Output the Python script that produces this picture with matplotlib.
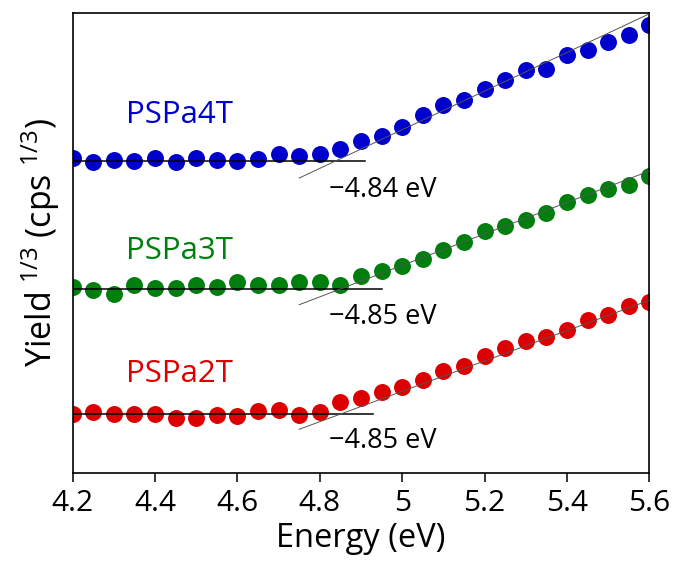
import matplotlib
matplotlib.use("Agg")
import matplotlib.pyplot as plt
import numpy as np

# photon energy (eV), 0.05 eV steps
energy = np.arange(4.2, 5.6001, 0.05)

# Yield^(1/3), arbitrary offsets per polymer
y_4t = [6.84, 6.75, 6.80, 6.79, 6.84, 6.77, 6.84, 6.80, 6.79, 6.83,
        6.93, 6.89, 6.93, 7.05, 7.21, 7.33, 7.53, 7.78, 7.99, 8.11,
        8.35, 8.54, 8.76, 8.78, 9.09, 9.20, 9.38, 9.52, 9.73]
y_3t = [4.04, 3.98, 3.89, 4.09, 4.02, 4.02, 4.08, 4.04, 4.15, 4.08,
        4.08, 4.15, 4.15, 4.08, 4.28, 4.39, 4.50, 4.65, 4.85, 5.03,
        5.25, 5.37, 5.50, 5.65, 5.90, 6.04, 6.17, 6.26, 6.46]
y_2t = [1.28, 1.33, 1.28, 1.29, 1.29, 1.20, 1.20, 1.25, 1.24, 1.35,
        1.37, 1.26, 1.33, 1.54, 1.62, 1.75, 1.86, 2.02, 2.22, 2.33,
        2.54, 2.71, 2.87, 2.95, 3.11, 3.33, 3.44, 3.62, 3.72]

names = ["PSPa4T", "PSPa3T", "PSPa2T"]
colors = ["#0000cc", "#007f0e", "#dd0000"]
onsets = [4.84, 4.85, 4.85]          # ionization onset (eV)
baselines = [6.79, 4.00, 1.28]       # background level
slopes = [4.2, 3.42, 3.3]            # slope of linear fit above onset
base_end = [4.91, 4.95, 4.93]

plt.rcParams['font.family'] = ['Open Sans', 'DejaVu Sans']
plt.rcParams['mathtext.default'] = 'regular'

fig = plt.figure(figsize=(6.78, 5.63), dpi=100)
ax = fig.add_axes([0.1072, 0.1599, 0.8505, 0.817])

for yv, c, e0, b, k, xe in zip([y_4t, y_3t, y_2t], colors, onsets, baselines, slopes, base_end):
    ax.plot(energy, yv, 'o', color=c, ms=12.2, mew=0, zorder=2)
    # background line
    ax.plot([4.2, xe], [b, b], color='black', lw=1.1, zorder=3)
    # linear fit of the rising part
    xs = np.array([4.75, 5.6])
    ax.plot(xs, b + k * (xs - e0), color='#555555', lw=0.7, zorder=3)

# polymer names
label_y = [7.78, 4.83, 2.15]
for n, c, ly in zip(names, colors, label_y):
    ax.text(4.33, ly, n, color=c, fontsize=22.5, va='center', ha='left')

# onset values
onset_y = [6.15, 3.39, 0.70]
for e0, oy in zip(onsets, onset_y):
    ax.text(4.822, oy, f"\u2212{e0:.2f} eV", fontsize=19.5, va='center', ha='left')

ax.set_xlim(4.2, 5.6)
ax.set_ylim(0, 10)
ax.set_xticks([4.2, 4.4, 4.6, 4.8, 5.0, 5.2, 5.4, 5.6])
ax.set_xticklabels(["4.2", "4.4", "4.6", "4.8", "5", "5.2", "5.4", "5.6"])
ax.set_yticks([])
ax.tick_params(axis='x', direction='out', length=6.5, width=1.1, labelsize=21.5, pad=5)
for s in ax.spines.values():
    s.set_linewidth(1.2)

ax.set_xlabel("Energy (eV)", fontsize=23.5, labelpad=3)
ax.set_ylabel("Yield$^{\\ 1/3}$ (cps$^{\\ 1/3}$)", fontsize=24.5, labelpad=8)

fig.savefig("out.png", dpi=100)
